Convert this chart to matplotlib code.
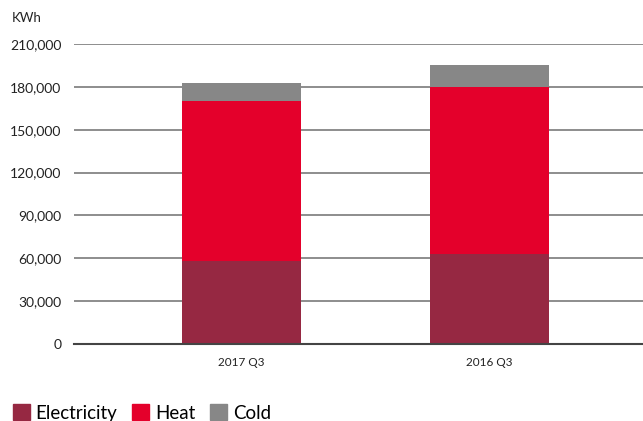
import matplotlib.pyplot as plt
from matplotlib.patches import Patch
from matplotlib.ticker import FuncFormatter

plt.rcParams['font.family'] = ['Lato', 'DejaVu Sans']

quarters = ['2017 Q3', '2016 Q3']
electricity = [58200, 63100]
heat = [111700, 116800]
cold = [12600, 15100]

c_elec = '#962842'
c_heat = '#e4002b'
c_cold = '#878787'

fig = plt.figure(figsize=(6.43, 4.21), dpi=100)
ax = fig.add_axes([74 / 643, 77 / 421, 569 / 643, 300 / 421])

x = range(len(quarters))
w = 0.48
ax.bar(x, electricity, w, color=c_elec, zorder=3)
ax.bar(x, heat, w, bottom=electricity, color=c_heat, zorder=3)
tops = [e + h for e, h in zip(electricity, heat)]
ax.bar(x, cold, w, bottom=tops, color=c_cold, zorder=3)

ax.set_xlim(-0.675, 1.619)
ax.set_ylim(0, 210000)
ax.set_yticks(range(0, 210001, 30000))
ax.yaxis.set_major_formatter(FuncFormatter(lambda v, p: f'{int(v):,}'))
ax.set_xticks(list(x))
ax.set_xticklabels(quarters)
ax.grid(axis='y', color='#7a7a7a', linewidth=1.2, zorder=1)
for s in ['top', 'right', 'left']:
    ax.spines[s].set_visible(False)
ax.spines['bottom'].set_color('#444444')
ax.spines['bottom'].set_linewidth(1.5)
ax.spines['bottom'].set_zorder(4)
ax.tick_params(axis='y', length=0, pad=9, labelsize=10, labelcolor='#222222')
ax.tick_params(axis='x', length=0, pad=9, labelsize=8.5, labelcolor='#222222')

fig.text(12 / 643, 1 - 18 / 421, 'KWh', fontsize=9.5, color='#222222', va='center')

handles = [Patch(color=c_elec, label='Electricity'),
           Patch(color=c_heat, label='Heat'),
           Patch(color=c_cold, label='Cold')]
fig.legend(handles=handles, loc='center left', bbox_to_anchor=(0.0, 1 - 413 / 421),
           ncol=3, frameon=False, fontsize=13.5, handlelength=0.9, handleheight=0.9,
           handletextpad=0.3, columnspacing=0.8, borderaxespad=0.3)

fig.savefig('out.png', dpi=100)
